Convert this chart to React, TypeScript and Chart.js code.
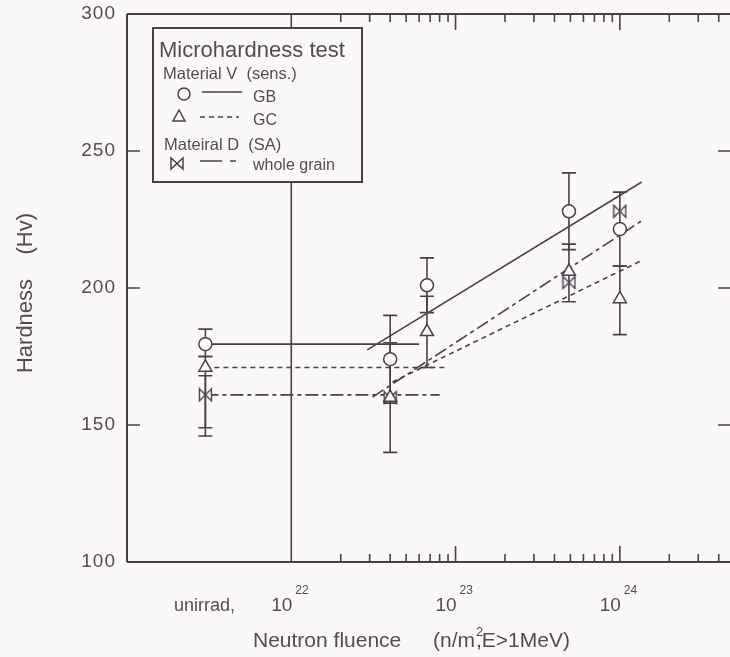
import React, { useEffect, useRef } from "react";
import { Chart, registerables } from "chart.js";

Chart.register(...registerables);

// ---------------- data ----------------
const UNIRRAD_FLUENCE = 3.0e21; // plotting position used for "unirrad."
const fluence = [UNIRRAD_FLUENCE, 4.0e22, 6.7e22, 4.9e23, 1.0e24];

// Material V (sens.) – GB (circles)
const gbHardness = [179.5, 174, 201, 228, 221.5];
const gbErrLow = [175, 158, 191, 214, 208];
const gbErrHigh = [185, 190, 211, 242, 235];

// Material V (sens.) – GC (triangles)
const gcHardness = [171, 160, 184, 206, 196];
const gcErrLow = [149, 140, 171, 195, 183];
const gcErrHigh = [175, 180, 197, 216, 208];

// Material D (SA) – whole grain (bow-ties)
const wgFluence = [UNIRRAD_FLUENCE, 4.0e22, 4.9e23, 1.0e24];
const wgHardness = [161, 160, 202, 228];
const wgErrLow = [146, null, null, null];
const wgErrHigh = [168, null, null, null];

// fitted trend lines
const gbFitX = [2.9e22, 1.36e24];
const gbFitY = [177.4, 238.7];
const gcFitX = [4.13e22, 1.38e24];
const gcFitY = [165.7, 210.2];
const wgFitX = [3.12e22, 1.38e24];
const wgFitY = [160.2, 224.8];

// unirradiated reference levels (start at unirrad marker)
const gbLevelEnd = 6.0e22;
const gcLevelEnd = 8.6e22;
const wgLevelEnd = 8.0e22;

// axes
const X_MIN = 1e21;
const X_MAX = 4.75e24;
const Y_MIN = 100;
const Y_MAX = 300;
const yTicks = [100, 150, 200, 250, 300];
const yInnerTicks = [150, 200, 250];
const decadeExponents = [22, 23, 24];
const minorMantissas = [2, 3, 4, 5, 6, 7, 8, 9];

// ---------------- style ----------------
const BG = "#fbf8fa";
const INK = "#4b3f49";
const TEXT = "#554a53";
const FONT = '"Liberation Sans", Arial, Helvetica, sans-serif';
const DASH_GC = [5, 4];
const DASH_WG = [13, 4, 4, 4];

function makeBowtie(size: number) {
  const c = document.createElement("canvas");
  c.width = size + 3;
  c.height = size + 3;
  const g = c.getContext("2d")!;
  const a = 1.5;
  const b = size + 1.5;
  g.beginPath();
  g.moveTo(a, a);
  g.lineTo(a, b);
  g.lineTo(b, a);
  g.lineTo(b, b);
  g.closePath();
  g.fillStyle = BG;
  g.fill();
  g.strokeStyle = INK;
  g.lineWidth = 1.4;
  g.stroke();
  return c;
}

function pts(xs: number[], ys: number[]) {
  return xs.map((x, i) => ({ x, y: ys[i] }));
}

const customPlugin = {
  id: "customDraw",
  beforeDraw(chart: any) {
    const ctx = chart.ctx;
    ctx.save();
    ctx.fillStyle = BG;
    ctx.fillRect(0, 0, chart.width, chart.height);
    ctx.restore();
  },
  beforeDatasetsDraw(chart: any) {
    const ctx = chart.ctx;
    const xs = chart.scales.x;
    const ys = chart.scales.y;
    const { left, right, top, bottom } = chart.chartArea;
    ctx.save();
    ctx.strokeStyle = INK;
    ctx.lineCap = "butt";

    // frame
    ctx.lineWidth = 2;
    ctx.beginPath();
    ctx.moveTo(left, top);
    ctx.lineTo(right, top);
    ctx.moveTo(left, top);
    ctx.lineTo(left, bottom);
    ctx.moveTo(left, bottom);
    ctx.lineTo(right, bottom);
    ctx.moveTo(right, top);
    ctx.lineTo(right, bottom);
    ctx.stroke();

    // vertical separator at 1e22
    const x22 = xs.getPixelForValue(1e22);
    ctx.lineWidth = 1.6;
    ctx.beginPath();
    ctx.moveTo(x22, top);
    ctx.lineTo(x22, bottom);
    ctx.stroke();

    // y ticks (inward, both sides)
    ctx.lineWidth = 1.6;
    yInnerTicks.forEach((v) => {
      const y = ys.getPixelForValue(v);
      ctx.beginPath();
      ctx.moveTo(left, y);
      ctx.lineTo(left + 13, y);
      ctx.moveTo(right, y);
      ctx.lineTo(right - 13, y);
      ctx.stroke();
    });

    // x ticks (inward, top and bottom)
    decadeExponents.forEach((e) => {
      minorMantissas.forEach((m) => {
        const v = m * Math.pow(10, e);
        if (v > X_MAX) return;
        const x = xs.getPixelForValue(v);
        ctx.beginPath();
        ctx.moveTo(x, bottom);
        ctx.lineTo(x, bottom - 8);
        ctx.moveTo(x, top);
        ctx.lineTo(x, top + 8);
        ctx.stroke();
      });
      if (e > 22) {
        const x = xs.getPixelForValue(Math.pow(10, e));
        ctx.beginPath();
        ctx.moveTo(x, bottom);
        ctx.lineTo(x, bottom - 16);
        ctx.moveTo(x, top);
        ctx.lineTo(x, top + 16);
        ctx.stroke();
      }
    });

    // error bars
    const drawErr = (xv: number[], lo: (number | null)[], hi: (number | null)[]) => {
      xv.forEach((x0, i) => {
        const l = lo[i];
        const h = hi[i];
        if (l == null || h == null) return;
        const x = xs.getPixelForValue(x0);
        const y1 = ys.getPixelForValue(l);
        const y2 = ys.getPixelForValue(h);
        ctx.lineWidth = 1.6;
        ctx.beginPath();
        ctx.moveTo(x, y1);
        ctx.lineTo(x, y2);
        ctx.moveTo(x - 7, y1);
        ctx.lineTo(x + 7, y1);
        ctx.moveTo(x - 7, y2);
        ctx.lineTo(x + 7, y2);
        ctx.stroke();
      });
    };
    drawErr(fluence, gbErrLow, gbErrHigh);
    drawErr(fluence, gcErrLow, gcErrHigh);
    drawErr(wgFluence, wgErrLow, wgErrHigh);
    ctx.restore();
  },
  afterDraw(chart: any) {
    const ctx = chart.ctx;
    const xs = chart.scales.x;
    const ys = chart.scales.y;
    const { left, bottom, top } = chart.chartArea;
    ctx.save();
    ctx.fillStyle = TEXT;
    ctx.textBaseline = "alphabetic";

    // y tick labels
    ctx.font = `19px ${FONT}`;
    (ctx as any).letterSpacing = "1px";
    ctx.textAlign = "right";
    ctx.textBaseline = "middle";
    yTicks.forEach((v) => {
      ctx.fillText(String(v), left - 11, ys.getPixelForValue(v));
    });
    (ctx as any).letterSpacing = "0px";

    // x labels
    ctx.textBaseline = "alphabetic";
    ctx.textAlign = "left";
    ctx.font = `18px ${FONT}`;
    ctx.fillText("unirrad,", 174, bottom + 49);
    decadeExponents.forEach((e) => {
      const x = xs.getPixelForValue(Math.pow(10, e));
      ctx.font = `19px ${FONT}`;
      ctx.textAlign = "right";
      ctx.fillText("10", x + 1, bottom + 49);
      ctx.font = `12px ${FONT}`;
      ctx.textAlign = "left";
      ctx.fillText(String(e), x + 4, bottom + 32);
    });

    // x title
    ctx.textAlign = "left";
    ctx.font = `21px ${FONT}`;
    let tx = 253;
    const ty = bottom + 85;
    ctx.fillText("Neutron fluence", tx, ty);
    tx = 433;
    ctx.fillText("(n/m", tx, ty);
    tx += ctx.measureText("(n/m").width + 1;
    ctx.font = `13px ${FONT}`;
    ctx.fillText("2", tx, ty - 11);
    ctx.font = `21px ${FONT}`;
    ctx.fillText(",E>1MeV)", tx, ty);

    // y title
    ctx.save();
    ctx.translate(32, (top + bottom) / 2 + 5);
    ctx.rotate(-Math.PI / 2);
    ctx.textAlign = "center";
    ctx.font = `22px ${FONT}`;
    ctx.fillText("Hardness    (Hv)", 0, 0);
    ctx.restore();

    // legend box (opaque)
    ctx.fillStyle = BG;
    ctx.fillRect(153, 28, 209, 154);
    ctx.strokeStyle = INK;
    ctx.lineWidth = 2;
    ctx.strokeRect(153, 28, 209, 154);
    ctx.fillStyle = TEXT;
    ctx.textAlign = "left";
    ctx.font = `22px ${FONT}`;
    ctx.fillText("Microhardness test", 159, 57);
    ctx.font = `16.5px ${FONT}`;
    ctx.fillText("Material V  (sens.)", 163, 79);
    ctx.fillText("Mateiral D  (SA)", 164, 150);
    ctx.font = `16px ${FONT}`;
    ctx.fillText("GB", 253, 102);
    ctx.fillText("GC", 253, 125);
    ctx.fillText("whole grain", 253, 170);

    // legend symbols
    ctx.lineWidth = 1.5;
    ctx.beginPath();
    ctx.arc(184, 94, 6, 0, Math.PI * 2);
    ctx.stroke();
    ctx.beginPath();
    ctx.moveTo(202, 92);
    ctx.lineTo(242, 92);
    ctx.stroke();

    ctx.beginPath();
    ctx.moveTo(179, 110);
    ctx.lineTo(173, 121);
    ctx.lineTo(185, 121);
    ctx.closePath();
    ctx.stroke();
    ctx.setLineDash(DASH_GC);
    ctx.beginPath();
    ctx.moveTo(200, 117);
    ctx.lineTo(239, 117);
    ctx.stroke();

    ctx.setLineDash([22, 8, 6, 100]);
    ctx.beginPath();
    ctx.moveTo(200, 161);
    ctx.lineTo(237, 161);
    ctx.stroke();
    ctx.setLineDash([]);
    ctx.beginPath();
    ctx.moveTo(171, 158);
    ctx.lineTo(171, 169);
    ctx.lineTo(183, 158);
    ctx.lineTo(183, 169);
    ctx.closePath();
    ctx.stroke();

    ctx.restore();
  },
};

export default function App() {
  const ref = useRef<HTMLCanvasElement | null>(null);

  useEffect(() => {
    if (!ref.current) return;
    const bowtie = makeBowtie(12);
    const lineDs = (data: any[], dash: number[]) => ({
      data,
      showLine: true,
      borderColor: INK,
      borderWidth: 1.6,
      borderDash: dash,
      pointRadius: 0,
      fill: false,
      order: 2,
    });
    const chart = new Chart(ref.current, {
      type: "scatter",
      data: {
        datasets: [
          {
            label: "GB",
            data: pts(fluence, gbHardness),
            pointStyle: "circle",
            pointRadius: 6.5,
            backgroundColor: BG,
            borderColor: INK,
            borderWidth: 1.5,
            order: 0,
          },
          {
            label: "GC",
            data: pts(fluence, gcHardness),
            pointStyle: "triangle",
            pointRadius: 7.5,
            backgroundColor: BG,
            borderColor: INK,
            borderWidth: 1.5,
            order: 0,
          },
          {
            label: "whole grain",
            data: pts(wgFluence, wgHardness),
            pointStyle: bowtie as any,
            pointRadius: 7,
            backgroundColor: BG,
            borderColor: INK,
            order: 0,
          },
          lineDs(pts(gbFitX, gbFitY), []),
          lineDs(pts(gcFitX, gcFitY), DASH_GC),
          lineDs(pts(wgFitX, wgFitY), DASH_WG),
          lineDs(pts([UNIRRAD_FLUENCE, gbLevelEnd], [gbHardness[0], gbHardness[0]]), []),
          lineDs(pts([UNIRRAD_FLUENCE, gcLevelEnd], [gcHardness[0], gcHardness[0]]), DASH_GC),
          lineDs(pts([UNIRRAD_FLUENCE, wgLevelEnd], [wgHardness[0], wgHardness[0]]), DASH_WG),
        ] as any,
      },
      options: {
        responsive: false,
        devicePixelRatio: 1,
        animation: false,
        layout: { padding: { left: 127, top: 14, right: 9, bottom: 95 } },
        plugins: { legend: { display: false }, tooltip: { enabled: false } },
        scales: {
          x: { type: "logarithmic", min: X_MIN, max: X_MAX, display: false },
          y: { type: "linear", min: Y_MIN, max: Y_MAX, display: false },
        },
      },
      plugins: [customPlugin],
    });
    return () => chart.destroy();
  }, []);

  return (
    <div
      style={{
        position: "fixed",
        left: 0,
        top: 0,
        width: 730,
        height: 657,
        overflow: "hidden",
        background: BG,
      }}
    >
      <canvas ref={ref} width={740} height={657} style={{ display: "block" }} />
    </div>
  );
}
